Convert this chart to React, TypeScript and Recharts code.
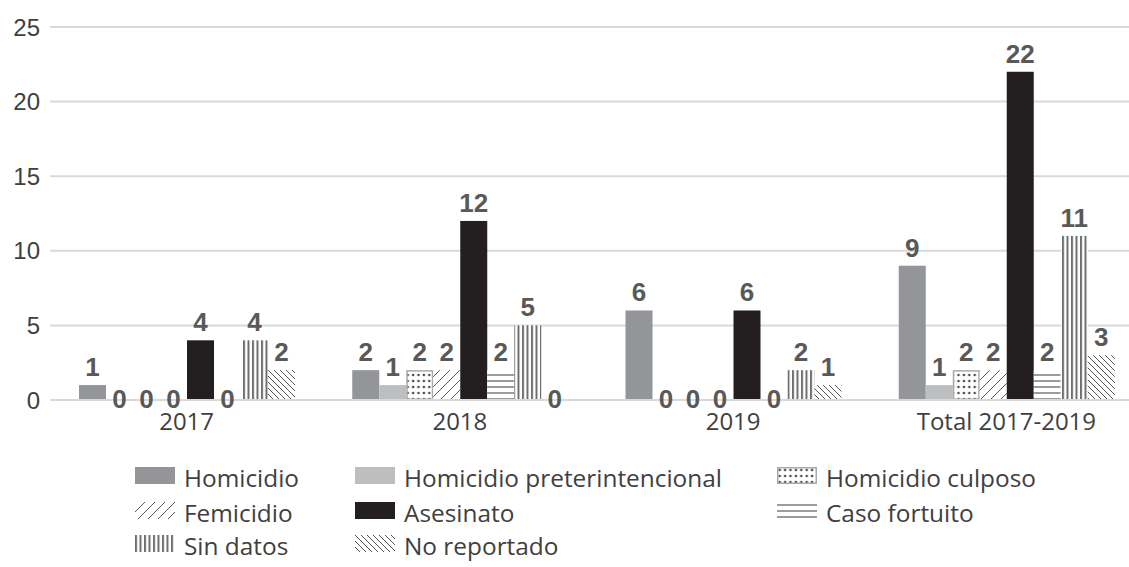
import { BarChart, Bar, XAxis, YAxis, CartesianGrid, LabelList, Legend } from "recharts";

const years = ["2017", "2018", "2019", "Total 2017-2019"];
const homicidio = [1, 2, 6, 9];
const preterintencional = [0, 1, 0, 1];
const culposo = [0, 2, 0, 2];
const femicidio = [0, 2, 0, 2];
const asesinato = [4, 12, 6, 22];
const casoFortuito = [0, 2, 0, 2];
const sinDatos = [4, 5, 2, 11];
const noReportado = [2, 0, 1, 3];
const yTicks = [0, 5, 10, 15, 20, 25];

const series = [
  { key: "homicidio", name: "Homicidio", values: homicidio, fill: "#939598" },
  { key: "preterintencional", name: "Homicidio preterintencional", values: preterintencional, fill: "#bcbec0" },
  { key: "culposo", name: "Homicidio culposo", values: culposo, fill: "url(#pDots)", stroke: "#a7a9ac" },
  { key: "femicidio", name: "Femicidio", values: femicidio, fill: "url(#pFwd)" },
  { key: "asesinato", name: "Asesinato", values: asesinato, fill: "#231f20" },
  { key: "casoFortuito", name: "Caso fortuito", values: casoFortuito, fill: "url(#pHoriz)" },
  { key: "sinDatos", name: "Sin datos", values: sinDatos, fill: "url(#pVert)" },
  { key: "noReportado", name: "No reportado", values: noReportado, fill: "url(#pBack)" },
];

const data = years.map((year, i) => {
  const row: Record<string, string | number> = { year };
  series.forEach((s) => (row[s.key] = s.values[i]));
  return row;
});

const tickFont = { fontFamily: "'Open Sans', sans-serif", fontSize: 24, fill: "#404040" };

function ValueLabel(props: any) {
  const { x, y, width, value } = props;
  const base = value === 0 ? y + 8 : y - 9;
  return (
    <text
      x={x + width / 2}
      y={base}
      textAnchor="middle"
      fontFamily="'Liberation Sans', Arial, sans-serif"
      fontWeight="bold"
      fontSize={26}
      fill="#595959"
    >
      {value}
    </text>
  );
}

// zero bars get a tiny height so their labels still show; draw nothing for them
function BarShape(props: any) {
  const { x, y, width, height, fill, stroke, strokeWidth } = props;
  if (!(height > 0.5)) return null;
  const inset = stroke ? strokeWidth / 2 : 0;
  return (
    <rect
      x={x + inset}
      y={y + inset}
      width={width - inset * 2}
      height={height - inset * 2}
      fill={fill}
      stroke={stroke}
      strokeWidth={stroke ? strokeWidth : 0}
    />
  );
}

const colLeft = [135, 355, 777];
const rowTop = [461, 496, 529];

function LegendGrid() {
  return (
    <div style={{ position: "relative", width: 1129, height: 110 }}>
      {series.map((s, i) => (
        <div
          key={s.key}
          style={{
            position: "absolute",
            left: colLeft[i % 3],
            top: rowTop[Math.floor(i / 3)] - 455,
            height: 34,
            display: "flex",
            alignItems: "center",
            whiteSpace: "nowrap",
          }}
        >
          <svg width={40} height={17} style={{ marginRight: 9, transform: "translateY(-3px)" }}>
            <rect
              x={s.stroke ? 0.75 : 0}
              y={s.stroke ? 0.75 : 0}
              width={s.stroke ? 38.5 : 40}
              height={s.stroke ? 15.5 : 17}
              fill={s.fill}
              stroke={s.stroke}
              strokeWidth={s.stroke ? 1.5 : 0}
            />
          </svg>
          <span style={{ fontFamily: "'Open Sans', sans-serif", fontSize: 24.4, color: "#404040", lineHeight: "34px" }}>
            {s.name}
          </span>
        </div>
      ))}
    </div>
  );
}

function Patterns() {
  return (
    <svg width={0} height={0} style={{ position: "absolute" }}>
      <defs>
        <pattern id="pDots" width="5.4" height="6" patternUnits="userSpaceOnUse">
          <rect width="5.4" height="6" fill="#fff" />
          <circle cx="2.7" cy="3" r="1.3" fill="#4d4d4f" />
        </pattern>
        <pattern id="pFwd" width="10" height="10" patternUnits="userSpaceOnUse">
          <rect width="10" height="10" fill="#fff" />
          <path d="M0,10 L10,0 M-1,1 L1,-1 M9,11 L11,9" stroke="#58595b" strokeWidth="1" />
        </pattern>
        <pattern id="pHoriz" width="6" height="6" patternUnits="userSpaceOnUse">
          <rect width="6" height="6" fill="#fff" />
          <line x1="0" y1="3" x2="6" y2="3" stroke="#58595b" strokeWidth="1.2" />
        </pattern>
        <pattern id="pVert" width="4.5" height="4.5" patternUnits="userSpaceOnUse">
          <rect width="4.5" height="4.5" fill="#fff" />
          <rect x="0" width="2" height="4.5" fill="#6d6e71" />
        </pattern>
        <pattern id="pBack" width="6" height="6" patternUnits="userSpaceOnUse">
          <rect width="6" height="6" fill="#fff" />
          <path d="M0,0 L6,6 M-1,5 L1,7 M5,-1 L7,1" stroke="#414042" strokeWidth="0.9" />
        </pattern>
      </defs>
    </svg>
  );
}

export default function App() {
  return (
    <div style={{ position: "absolute", left: 0, top: 0, width: 1129, height: 567, overflow: "hidden", background: "#fff" }}>
      <Patterns />
      <BarChart
        width={1143}
        height={567}
        data={data}
        margin={{ top: 27, right: 0, left: 0, bottom: 127 }}
        barCategoryGap={29}
        barGap={0}
      >
        <CartesianGrid vertical={false} stroke="#d9d9d9" strokeWidth={2} />
        <XAxis
          dataKey="year"
          height={40}
          tickLine={false}
          axisLine={{ stroke: "#d9d9d9", strokeWidth: 2 }}
          tickMargin={7}
          tick={tickFont}
        />
        <YAxis
          width={50}
          domain={[0, 25]}
          ticks={yTicks}
          tickLine={false}
          axisLine={false}
          tickMargin={4}
          tick={{ ...tickFont, fontFamily: "'Liberation Sans', Arial, sans-serif" }}
        />
        <Legend
          verticalAlign="middle"
          layout="horizontal"
          align="center"
          wrapperStyle={{ top: 455, left: 0, width: 1129 }}
          content={() => <LegendGrid />}
        />
        {series.map((s) => (
          <Bar
            key={s.key}
            dataKey={s.key}
            name={s.name}
            fill={s.fill}
            stroke={s.stroke}
            strokeWidth={s.stroke ? 1.5 : 0}
            minPointSize={0.01}
            shape={BarShape}
            isAnimationActive={false}
          >
            <LabelList dataKey={s.key} content={ValueLabel} />
          </Bar>
        ))}
      </BarChart>
    </div>
  );
}
